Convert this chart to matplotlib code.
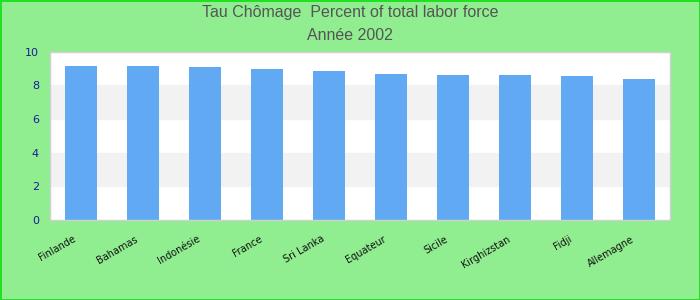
import matplotlib
matplotlib.use('Agg')
import matplotlib.pyplot as plt
from matplotlib.transforms import ScaledTranslation

countries = ['Finlande', 'Bahamas', 'Indonésie', 'France', 'Sri Lanka',
             'Equateur', 'Sicile', 'Kirghizstan', 'Fidji', 'Allemagne']
rates = [9.15, 9.15, 9.12, 8.97, 8.85, 8.67, 8.62, 8.62, 8.56, 8.38]
y_ticks = [0, 2, 4, 6, 8, 10]

plt.rcParams['font.family'] = ['DejaVu Sans']

fig = plt.figure(figsize=(7, 3), dpi=100, facecolor='#90ee90',
                 edgecolor='#22e022', linewidth=2)
ax = fig.add_axes([50 / 700, 1 - 220 / 300, 620 / 700, 168.3 / 300])
ax.set_facecolor('white')

# alternating grey bands behind the bars
for lo in (2, 6):
    ax.axhspan(lo, lo + 2, color='#f2f2f2', zorder=0)

ax.bar(range(len(countries)), rates, width=0.52, color='#62a9f4', zorder=2)

ax.set_xlim(-0.5, len(countries) - 0.5)
ax.set_ylim(0, 10)
ax.set_yticks(y_ticks)
ax.tick_params(axis='y', length=0, pad=8, labelsize=8, labelcolor='#1a1a99')
ax.set_xticks(range(len(countries)))
ax.set_xticklabels(countries, rotation=30, ha='right', rotation_mode='anchor',
                   fontsize=7, color='#111111')
ax.tick_params(axis='x', length=0, pad=10)
shift = ScaledTranslation(-8 / 100, 0, fig.dpi_scale_trans)
for lab in ax.get_xticklabels():
    lab.set_transform(lab.get_transform() + shift)
for s in ax.spines.values():
    s.set_color('#d0d0d0')
    s.set_linewidth(1)

fig.text(0.5, 1 - 13 / 300, 'Tau Chômage  Percent of total labor force',
         ha='center', va='center', fontsize=11.5, color='#555555',
         family='Liberation Sans')
fig.text(0.5, 1 - 35 / 300, 'Année 2002', ha='center', va='center',
         fontsize=11.5, color='#555555', family='Liberation Sans')

fig.savefig('out.png', dpi=100, facecolor=fig.get_facecolor(),
            edgecolor=fig.get_edgecolor())
